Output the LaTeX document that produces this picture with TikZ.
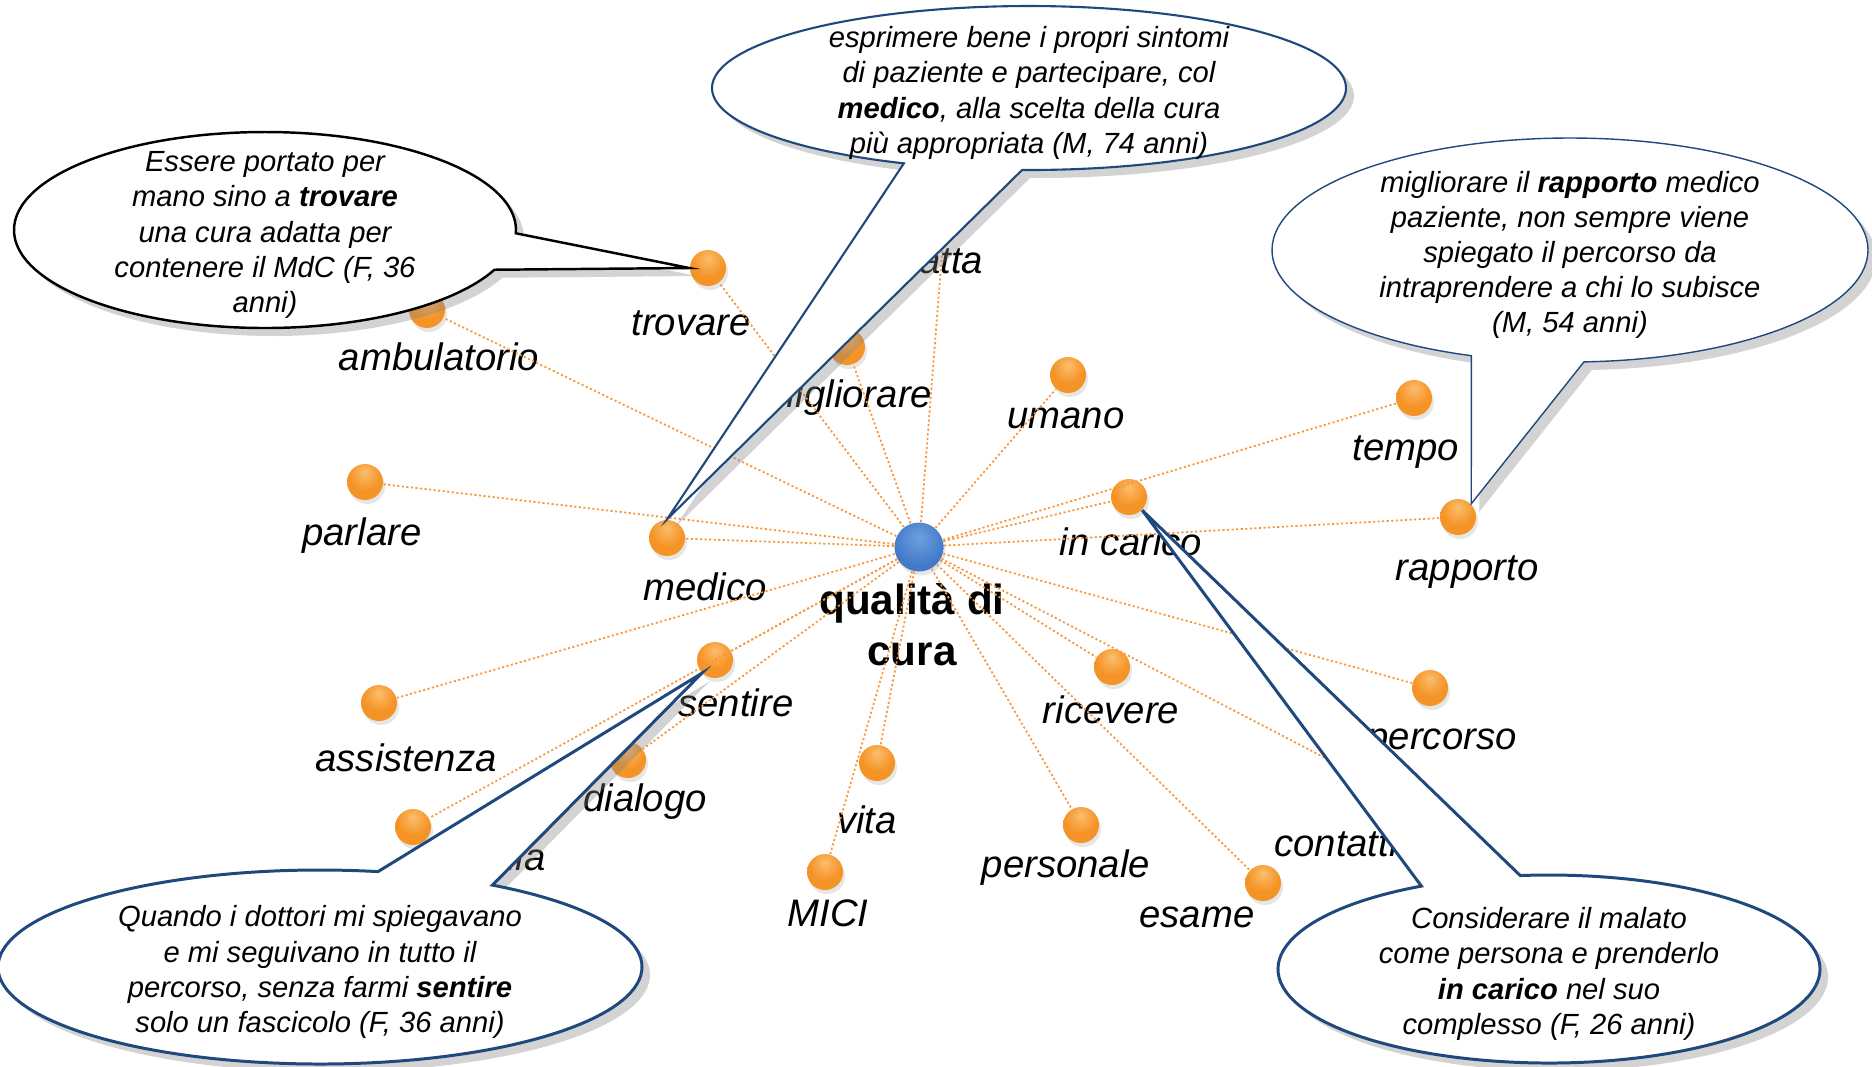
\documentclass[tikz,border=0pt]{standalone}
\usepackage{fontspec}
\setmainfont{Liberation Sans}
\usetikzlibrary{shapes.callouts,shadows}

\definecolor{ballorange}{RGB}{245,148,38}
\definecolor{ballhigh}{RGB}{251,190,110}
\definecolor{balledge}{RGB}{214,116,28}
\definecolor{ballblue}{RGB}{66,122,200}
\definecolor{bluehigh}{RGB}{110,160,225}
\definecolor{blueedge}{RGB}{48,96,168}
\definecolor{linkorange}{RGB}{248,150,60}
\definecolor{quoteblue}{RGB}{31,73,125}

\pgfdeclareradialshading{orangeball}{\pgfpoint{0bp}{14bp}}{color(0bp)=(ballhigh); color(22bp)=(ballorange); color(48bp)=(ballorange); color(64bp)=(balledge); color(80bp)=(balledge)}
\pgfdeclareradialshading{blueball}{\pgfpoint{0bp}{10bp}}{color(0bp)=(bluehigh); color(26bp)=(ballblue); color(50bp)=(ballblue); color(62bp)=(blueedge); color(80bp)=(blueedge)}

\begin{document}
\begin{tikzpicture}[x=0.1mm,y=-0.1mm,
	ball/.style={shape=circle,inner sep=0pt,minimum size=3.6mm,shading=orangeball,
		drop shadow={shadow xshift=0.2mm,shadow yshift=-0.4mm,opacity=0.2}},
	hub/.style={shape=circle,inner sep=0pt,minimum size=4.9mm,shading=blueball,
		drop shadow={shadow xshift=0.2mm,shadow yshift=-0.4mm,opacity=0.2}},
	word/.style={font=\fontsize{10.9}{13}\selectfont\itshape},
	link/.style={draw=linkorange,line width=0.5pt,dash pattern=on 0.6pt off 0.7pt},
	bubble/.style={ellipse callout,fill=white,callout pointer arc=22,
		drop shadow={shadow xshift=0.8mm,shadow yshift=-0.8mm,opacity=0.35}},
	quote/.style={align=center,yshift=-0.5mm,font=\fontsize{8.3}{10}\selectfont\itshape}]
	
	\useasboundingbox (0,0) rectangle (1872,1066);
	
	\node[hub] (qc) at (919,547) {};
	\node[align=center,font=\fontsize{12}{14.6}\selectfont\bfseries] (qc-w) at (912,625) {qualità di\\cura};
	
	\node[ball] (trovare)     at (708,268)  {};
	\node[ball] (ambulatorio) at (427,310)  {};
	\node[ball] (adatta)      at (945,215)  {};
	\node[ball] (migliorare)  at (847,347)  {};
	\node[ball] (umano)       at (1068,375) {};
	\node[ball] (tempo)       at (1414,398) {};
	\node[ball] (incarico)    at (1129,497) {};
	\node[ball] (rapporto)    at (1458,517) {};
	\node[ball] (parlare)     at (365,482)  {};
	\node[ball] (medico)      at (667,538)  {};
	\node[ball] (sentire)     at (715,660)  {};
	\node[ball] (assistenza)  at (379,703)  {};
	\node[ball] (dialogo)     at (628,760)  {};
	\node[ball] (cartella)    at (413,827)  {};
	\node[ball] (vita)        at (877,763)  {};
	\node[ball] (mici)        at (825,872)  {};
	\node[ball] (personale)   at (1081,825) {};
	\node[ball] (ricevere)    at (1112,667) {};
	\node[ball] (percorso)    at (1430,688) {};
	\node[ball] (contatti)    at (1385,789) {};
	\node[ball] (esame)       at (1263,883) {};
	
	\node[word] (trovare-w)     at (691,323)  {trovare};
	\node[word] (ambulatorio-w) at (439,357)  {ambulatorio};
	\node[word] (adatta-w)      at (930,260)  {adatta};
	\node[word] (migliorare-w)  at (848,398)  {migliorare};
	\node[word] (umano-w)       at (1066,418) {umano};
	\node[word] (tempo-w)       at (1406,452) {tempo};
	\node[word] (incarico-w)    at (1131,542) {in carico};
	\node[word] (rapporto-w)    at (1467,572) {rapporto};
	\node[word] (parlare-w)     at (362,536)  {parlare};
	\node[word] (medico-w)      at (705,587)  {medico};
	\node[word] (sentire-w)     at (736,703)  {sentire};
	\node[word] (assistenza-w)  at (406,758)  {assistenza};
	\node[word] (dialogo-w)     at (645,802)  {dialogo};
	\node[word] (cartella-w)    at (484,857)  {cartella};
	\node[word] (vita-w)        at (867,820)  {vita};
	\node[word] (mici-w)        at (828,913)  {MICI};
	\node[word] (personale-w)   at (1066,868) {personale};
	\node[word] (ricevere-w)    at (1111,710) {ricevere};
	\node[word] (percorso-w)    at (1442,743) {percorso};
	\node[word] (contatti-w)    at (1336,843) {contatti};
	\node[word] (esame-w)       at (1197,917) {esame};
	
	\path[link] (qc) edge (trovare);
	\path[link] (qc) edge (ambulatorio);
	\path[link] (qc) edge (adatta);
	\path[link] (qc) edge (migliorare);
	\path[link] (qc) edge (umano);
	\path[link] (qc) edge (tempo);
	\path[link] (qc) edge (incarico);
	\path[link] (qc) edge (rapporto);
	\path[link] (qc) edge (parlare);
	\path[link] (qc) edge (medico);
	\path[link] (qc) edge (sentire);
	\path[link] (qc) edge (assistenza);
	\path[link] (qc) edge (dialogo);
	\path[link] (qc) edge (cartella);
	\path[link] (qc) edge (vita);
	\path[link] (qc) edge (mici);
	\path[link] (qc) edge (personale);
	\path[link] (qc) edge (ricevere);
	\path[link] (qc) edge (percorso);
	\path[link] (qc) edge (contatti);
	\path[link] (qc) edge (esame);
	
	% quotes
	\node[bubble,draw=black,line width=0.7pt,minimum width=50.2mm,minimum height=19.6mm,
		callout absolute pointer={(trovare.west)}] (q1) at (265,230) {};
	\node[quote] at (q1.center) {Essere portato per\\mano sino a \textbf{trovare}\\una cura adatta per\\contenere il MdC (F, 36\\anni)};
	
	\node[bubble,draw=quoteblue,line width=0.6pt,minimum width=63.4mm,minimum height=16.4mm,
		callout absolute pointer={(medico.north)}] (q2) at (1029,88) {};
	\node[quote] at (q2.center) {esprimere bene i propri sintomi\\di paziente e partecipare, col\\\textbf{medico}, alla scelta della cura\\più appropriata (M, 74 anni)};
	
	\node[bubble,draw=quoteblue,line width=0.4pt,minimum width=59.6mm,minimum height=22.4mm,
		callout absolute pointer={(rapporto.north east)}] (q3) at (1570,250) {};
	\node[quote] at (q3.center) {migliorare il \textbf{rapporto} medico\\paziente, non sempre viene\\spiegato il percorso da\\intraprendere a chi lo subisce\\(M, 54 anni)};
	
	\node[bubble,draw=quoteblue,line width=0.85pt,minimum width=64.4mm,minimum height=19.4mm,
		callout absolute pointer={(sentire.south west)}] (q4) at (320,967) {};
	\node[quote] at (q4.center) {Quando i dottori mi spiegavano\\e mi seguivano in tutto il\\percorso, senza farmi \textbf{sentire}\\solo un fascicolo (F, 36 anni)};
	
	\node[bubble,draw=quoteblue,line width=0.85pt,minimum width=54.2mm,minimum height=18.8mm,
		callout absolute pointer={(incarico.south east)}] (q5) at (1549,969) {};
	\node[quote] at (q5.center) {Considerare il malato\\come persona e prenderlo\\\textbf{in carico} nel suo\\complesso (F, 26 anni)};
	
\end{tikzpicture}
\end{document}
